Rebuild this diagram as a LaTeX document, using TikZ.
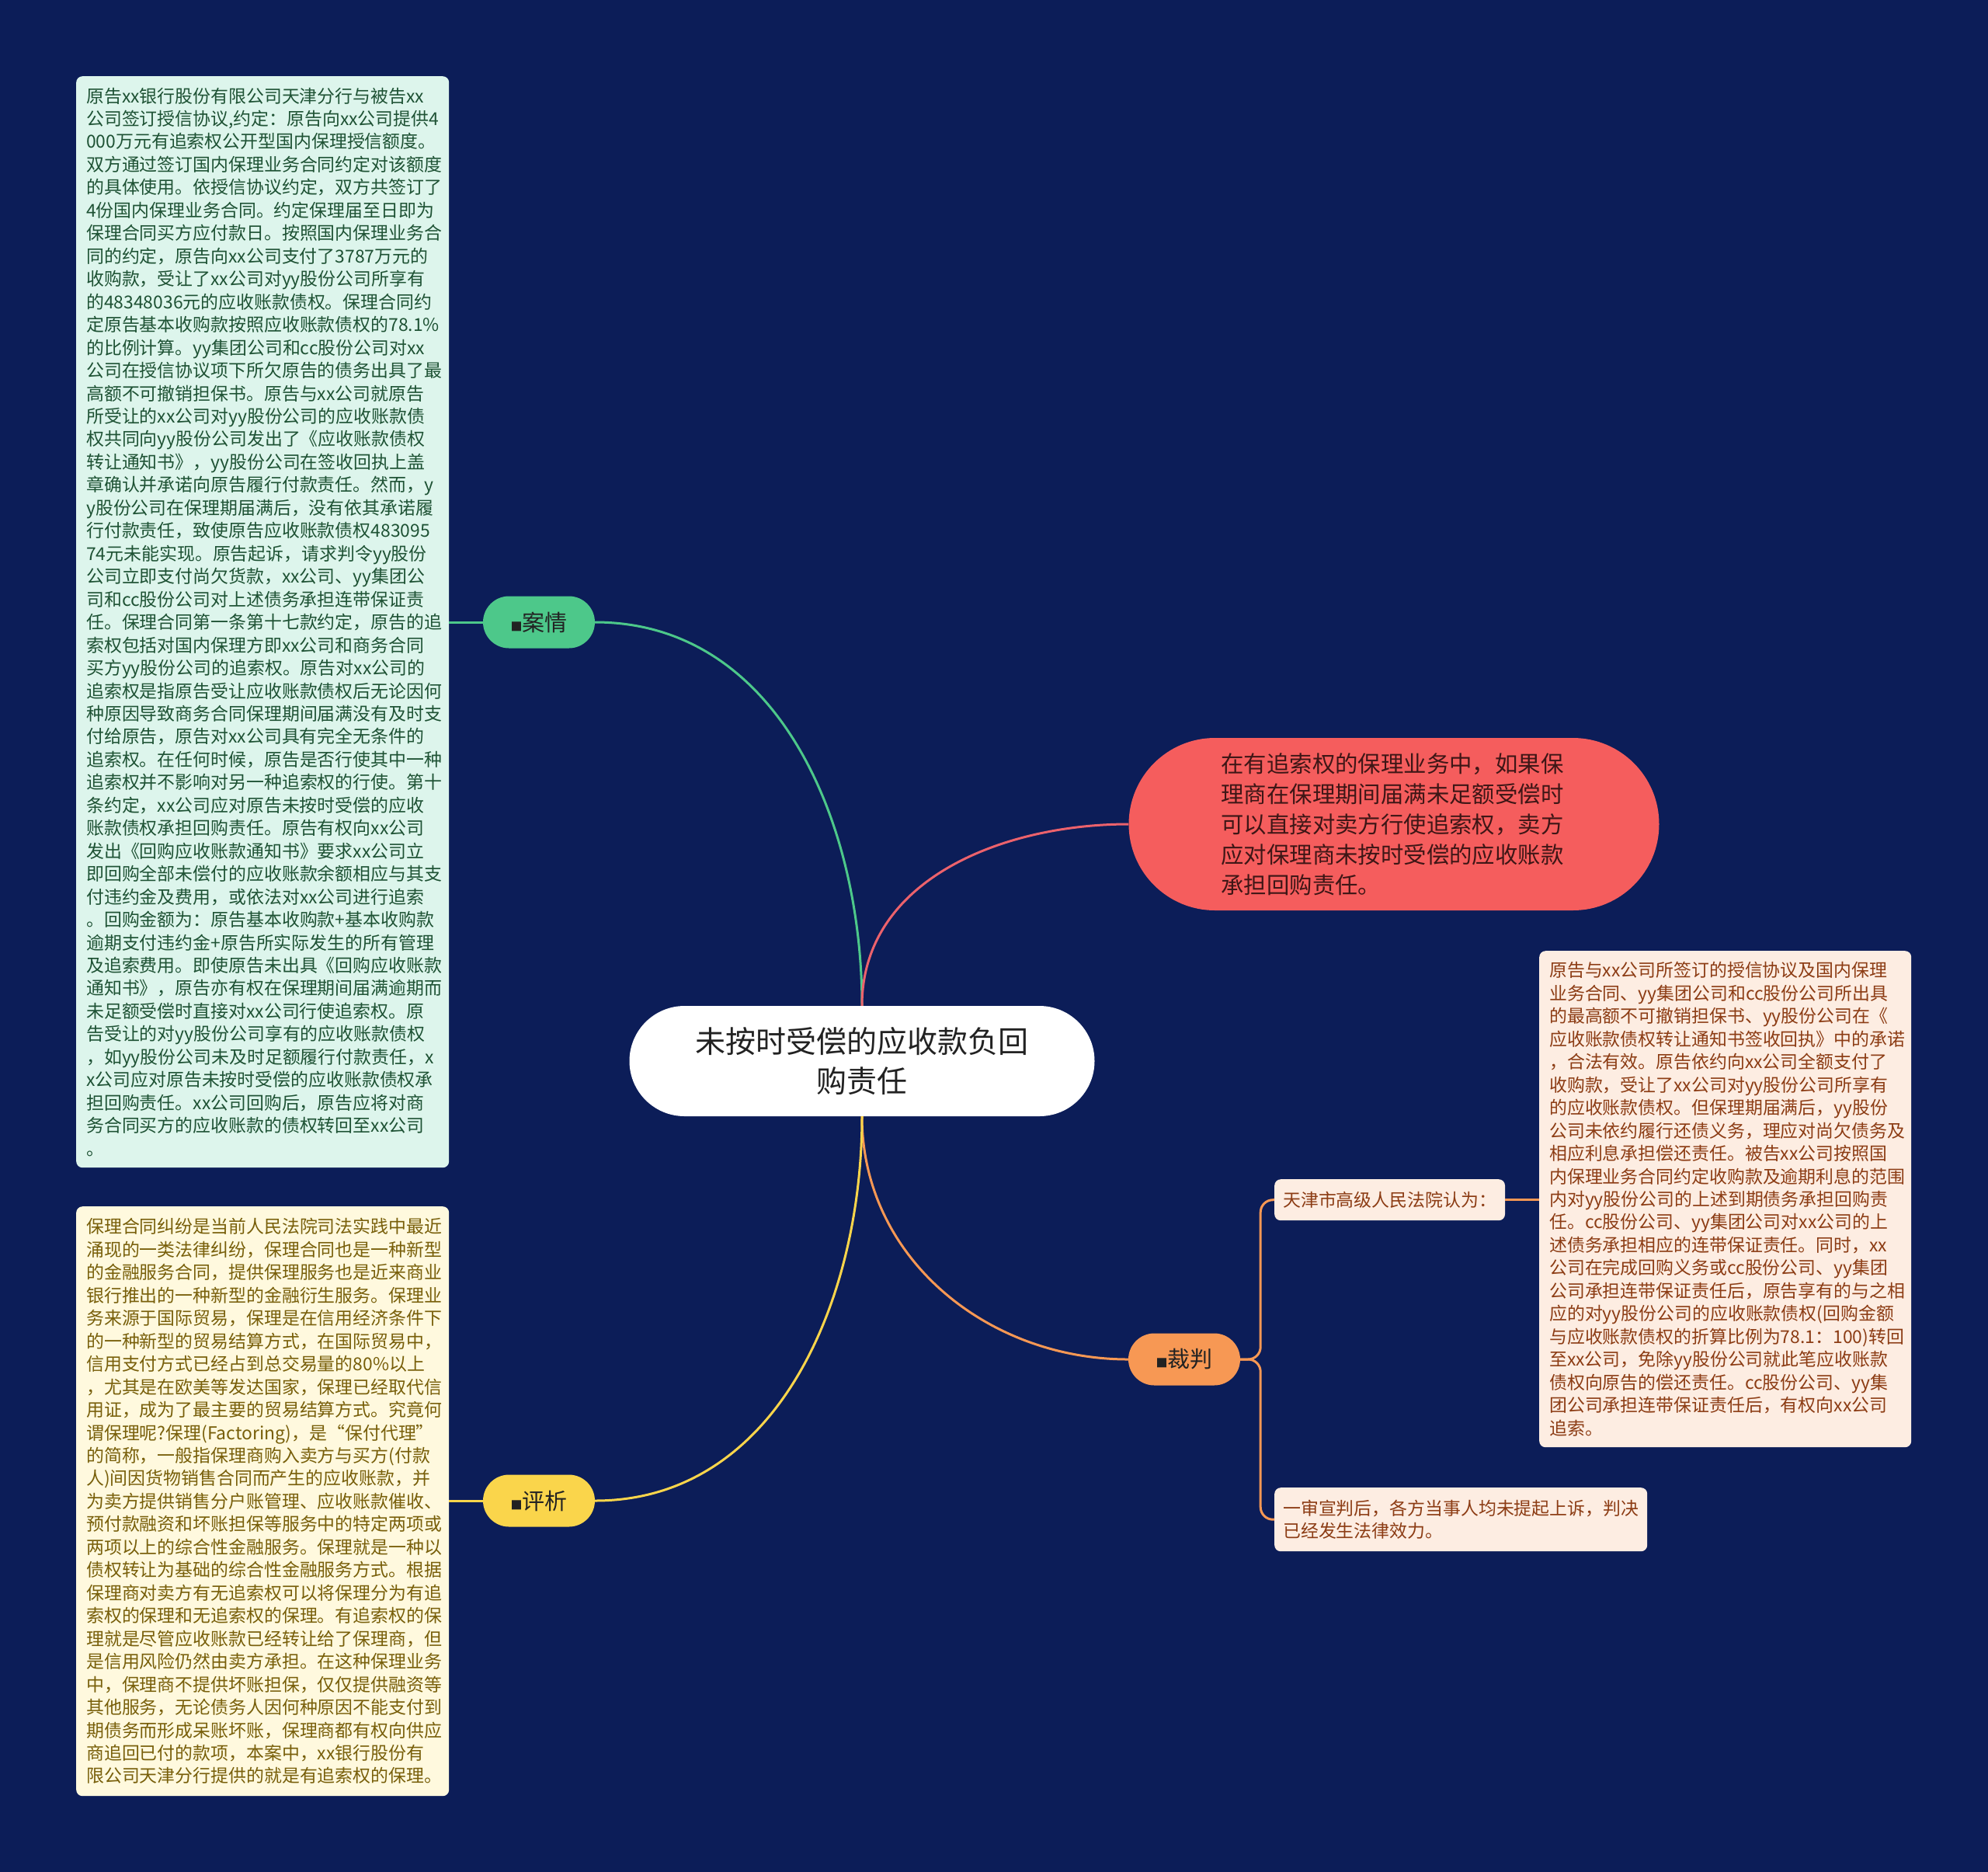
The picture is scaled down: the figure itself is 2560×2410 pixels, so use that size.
\documentclass[tikz,border=0pt]{standalone}
\usepackage{fontspec}
\setmainfont{Noto Sans CJK SC}
\usetikzlibrary{shapes.misc,positioning}
\definecolor{bgnavy}{RGB}{12,29,88}
\definecolor{casegreen}{RGB}{77,200,138}
\definecolor{caseback}{RGB}{221,245,236}
\definecolor{caseink}{RGB}{30,82,52}
\definecolor{keyred}{RGB}{245,93,93}
\definecolor{keyline}{RGB}{236,98,108}
\definecolor{keyink}{RGB}{62,22,22}
\definecolor{judgeorange}{RGB}{247,152,84}
\definecolor{judgeback}{RGB}{253,237,226}
\definecolor{judgeink}{RGB}{140,60,20}
\definecolor{reviewyellow}{RGB}{250,213,75}
\definecolor{reviewback}{RGB}{255,249,222}
\definecolor{reviewink}{RGB}{120,95,10}
\definecolor{rootink}{RGB}{34,34,34}
\newcommand{\tagsq}{{\fontsize{15}{15}\selectfont ■}}

\begin{document}
\begin{tikzpicture}[x=1pt,y=1pt,
  root/.style={fill=white,rounded rectangle,minimum width=599pt,minimum height=142pt,
               align=center,inner sep=0pt,text=rootink,font=\fontsize{39}{51}\selectfont},
  pill/.style={rounded rectangle,minimum width=144pt,minimum height=67pt,inner sep=0pt,
               text=rootink,font=\fontsize{29}{35}\selectfont},
  keynode/.style={fill=keyred,rounded rectangle,minimum width=683pt,minimum height=222pt,
                  inner sep=0pt,text width=445pt,align=left,text=keyink,
                  font=\fontsize{29.4}{39}\selectfont},
  textbox/.style={rounded corners=8pt,anchor=north west,align=left,inner xsep=13pt,
                  inner ysep=12pt,font=\fontsize{22.9}{29.46}\selectfont},
  link/.style={line width=3pt}
]
  \fill[bgnavy] (0,0) rectangle (2560,-2410);

  % centre
  \node[root] (root) at (1110,-1366) {未按时受偿的应收款负回\\购责任};

  % main branches
  \node[pill,fill=casegreen]    (case)   at (694,-801)  {\tagsq 案情};
  \node[keynode]                (key)    at (1795,-1061)
    {在有追索权的保理业务中，如果保\\理商在保理期间届满未足额受偿时\\可以直接对卖方行使追索权，卖方\\应对保理商未按时受偿的应收账款\\承担回购责任。};
  \node[pill,fill=judgeorange]  (judge)  at (1525,-1750) {\tagsq 裁判};
  \node[pill,fill=reviewyellow] (review) at (694,-1932) {\tagsq 评析};

  % case detail
  \node[textbox,fill=caseback,text=caseink,text width=454pt,minimum height=1405pt]
    (casetext) at (98,-98) {原告xx银行股份有限公司天津分行与被告xx\\
公司签订授信协议,约定：原告向xx公司提供4\\
000万元有追索权公开型国内保理授信额度。\\
双方通过签订国内保理业务合同约定对该额度\\
的具体使用。依授信协议约定，双方共签订了\\
4份国内保理业务合同。约定保理届至日即为\\
保理合同买方应付款日。按照国内保理业务合\\
同的约定，原告向xx公司支付了3787万元的\\
收购款，受让了xx公司对yy股份公司所享有\\
的48348036元的应收账款债权。保理合同约\\
定原告基本收购款按照应收账款债权的78.1\%\\
的比例计算。yy集团公司和cc股份公司对xx\\
公司在授信协议项下所欠原告的债务出具了最\\
高额不可撤销担保书。原告与xx公司就原告\\
所受让的xx公司对yy股份公司的应收账款债\\
权共同向yy股份公司发出了《应收账款债权\\
转让通知书》，yy股份公司在签收回执上盖\\
章确认并承诺向原告履行付款责任。然而，y\\
y股份公司在保理期届满后，没有依其承诺履\\
行付款责任，致使原告应收账款债权483095\\
74元未能实现。原告起诉，请求判令yy股份\\
公司立即支付尚欠货款，xx公司、yy集团公\\
司和cc股份公司对上述债务承担连带保证责\\
任。保理合同第一条第十七款约定，原告的追\\
索权包括对国内保理方即xx公司和商务合同\\
买方yy股份公司的追索权。原告对xx公司的\\
追索权是指原告受让应收账款债权后无论因何\\
种原因导致商务合同保理期间届满没有及时支\\
付给原告，原告对xx公司具有完全无条件的\\
追索权。在任何时候，原告是否行使其中一种\\
追索权并不影响对另一种追索权的行使。第十\\
条约定，xx公司应对原告未按时受偿的应收\\
账款债权承担回购责任。原告有权向xx公司\\
发出《回购应收账款通知书》要求xx公司立\\
即回购全部未偿付的应收账款余额相应与其支\\
付违约金及费用，或依法对xx公司进行追索\\
。回购金额为：原告基本收购款+基本收购款\\
逾期支付违约金+原告所实际发生的所有管理\\
及追索费用。即使原告未出具《回购应收账款\\
通知书》，原告亦有权在保理期间届满逾期而\\
未足额受偿时直接对xx公司行使追索权。原\\
告受让的对yy股份公司享有的应收账款债权\\
，如yy股份公司未及时足额履行付款责任，x\\
x公司应对原告未按时受偿的应收账款债权承\\
担回购责任。xx公司回购后，原告应将对商\\
务合同买方的应收账款的债权转回至xx公司\\
。};

  % review detail
  \node[textbox,fill=reviewback,text=reviewink,text width=454pt,minimum height=759pt]
    (reviewtext) at (98,-1553) {保理合同纠纷是当前人民法院司法实践中最近\\
涌现的一类法律纠纷，保理合同也是一种新型\\
的金融服务合同，提供保理服务也是近来商业\\
银行推出的一种新型的金融衍生服务。保理业\\
务来源于国际贸易，保理是在信用经济条件下\\
的一种新型的贸易结算方式，在国际贸易中，\\
信用支付方式已经占到总交易量的80\%以上\\
，尤其是在欧美等发达国家，保理已经取代信\\
用证，成为了最主要的贸易结算方式。究竟何\\
谓保理呢?保理(Factoring)，是“保付代理”\\
的简称，一般指保理商购入卖方与买方(付款\\
人)间因货物销售合同而产生的应收账款，并\\
为卖方提供销售分户账管理、应收账款催收、\\
预付款融资和坏账担保等服务中的特定两项或\\
两项以上的综合性金融服务。保理就是一种以\\
债权转让为基础的综合性金融服务方式。根据\\
保理商对卖方有无追索权可以将保理分为有追\\
索权的保理和无追索权的保理。有追索权的保\\
理就是尽管应收账款已经转让给了保理商，但\\
是信用风险仍然由卖方承担。在这种保理业务\\
中，保理商不提供坏账担保，仅仅提供融资等\\
其他服务，无论债务人因何种原因不能支付到\\
期债务而形成呆账坏账，保理商都有权向供应\\
商追回已付的款项，本案中，xx银行股份有\\
限公司天津分行提供的就是有追索权的保理。};

  % judgement detail
  \node[textbox,fill=judgeback,text=judgeink,inner xsep=11pt,minimum height=53pt]
    (court) at (1641,-1518) {天津市高级人民法院认为：};
  \node[textbox,fill=judgeback,text=judgeink,inner xsep=11pt,text width=458pt,minimum height=82pt]
    (final) at (1641,-1915) {一审宣判后，各方当事人均未提起上诉，判决\\已经发生法律效力。};
  \node[textbox,fill=judgeback,text=judgeink,text width=453pt,minimum height=639pt]
    (judgetext) at (1982,-1224) {原告与xx公司所签订的授信协议及国内保理\\
业务合同、yy集团公司和cc股份公司所出具\\
的最高额不可撤销担保书、yy股份公司在《\\
应收账款债权转让通知书签收回执》中的承诺\\
，合法有效。原告依约向xx公司全额支付了\\
收购款，受让了xx公司对yy股份公司所享有\\
的应收账款债权。但保理期届满后，yy股份\\
公司未依约履行还债义务，理应对尚欠债务及\\
相应利息承担偿还责任。被告xx公司按照国\\
内保理业务合同约定收购款及逾期利息的范围\\
内对yy股份公司的上述到期债务承担回购责\\
任。cc股份公司、yy集团公司对xx公司的上\\
述债务承担相应的连带保证责任。同时，xx\\
公司在完成回购义务或cc股份公司、yy集团\\
公司承担连带保证责任后，原告享有的与之相\\
应的对yy股份公司的应收账款债权(回购金额\\
与应收账款债权的折算比例为78.1：100)转回\\
至xx公司，免除yy股份公司就此笔应收账款\\
债权向原告的偿还责任。cc股份公司、yy集\\
团公司承担连带保证责任后，有权向xx公司\\
追索。};

  % root -> branches
  \draw[link,casegreen]    (root.north) to[out=90,in=0]   (case.east);
  \draw[link,keyline]      (root.north) to[out=90,in=180] (key.west);
  \draw[link,judgeorange]  (root.south) to[out=-90,in=180] (judge.west);
  \draw[link,reviewyellow] (root.south) to[out=-90,in=0]  (review.east);

  % branches -> details
  \draw[link,casegreen]    (case.west) -- (case.west -| casetext.east);
  \draw[link,reviewyellow] (review.west) -- (review.west -| reviewtext.east);
  \draw[link,judgeorange,rounded corners=16pt] (judge.east) -- ++(26,0) |- (court.west);
  \draw[link,judgeorange,rounded corners=16pt] (judge.east) -- ++(26,0) |- (final.west);
  \draw[link,judgeorange]  (court.east) -- (court.east -| judgetext.west);
\end{tikzpicture}
\end{document}
